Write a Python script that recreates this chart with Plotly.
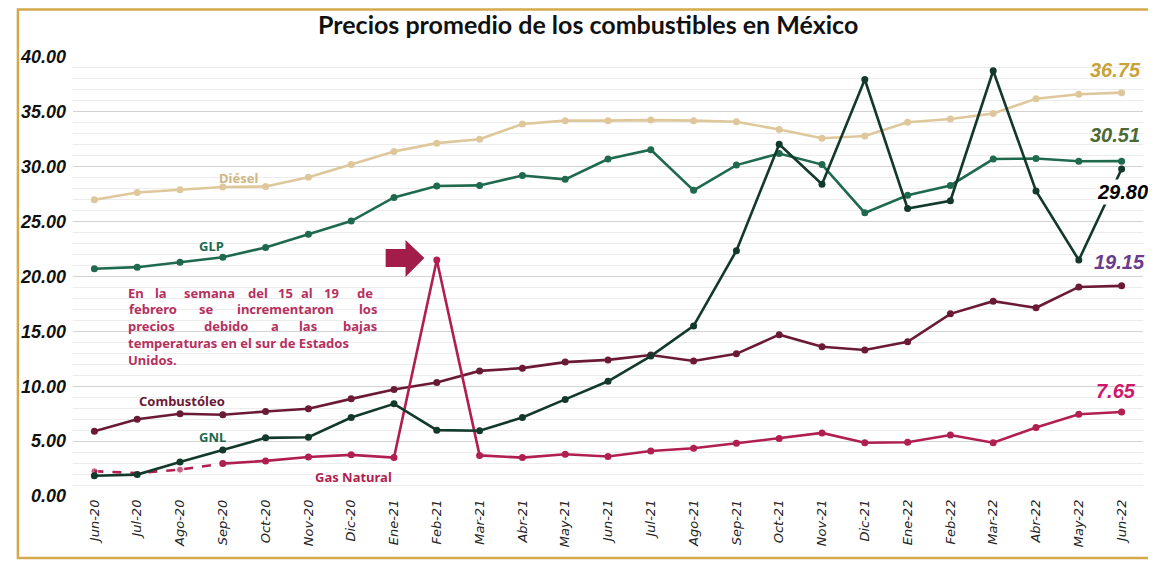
import plotly.graph_objects as go

months = ["Jun-20", "Jul-20", "Ago-20", "Sep-20", "Oct-20", "Nov-20", "Dic-20", "Ene-21",
          "Feb-21", "Mar-21", "Abr-21", "May-21", "Jun-21", "Jul-21", "Ago-21", "Sep-21",
          "Oct-21", "Nov-21", "Dic-21", "Ene-22", "Feb-22", "Mar-22", "Abr-22", "May-22", "Jun-22"]

diesel = [27.0, 27.65, 27.9, 28.15, 28.2, 29.05, 30.2, 31.4, 32.15, 32.5, 33.9, 34.2, 34.2,
          34.25, 34.2, 34.1, 33.4, 32.6, 32.8, 34.05, 34.35, 34.85, 36.2, 36.6, 36.75]
glp = [20.7, 20.85, 21.3, 21.75, 22.65, 23.85, 25.05, 27.2, 28.25, 28.3, 29.2, 28.85, 30.7,
       31.55, 27.85, 30.15, 31.2, 30.2, 25.8, 27.4, 28.3, 30.7, 30.75, 30.5, 30.51]
gnl = [1.85, 1.95, 3.1, 4.2, 5.3, 5.35, 7.15, 8.4, 6.0, 5.95, 7.15, 8.8, 10.45, 12.75, 15.5,
       22.35, 32.05, 28.4, 37.95, 26.2, 26.9, 38.75, 27.8, 21.5, 29.80]
combustoleo = [5.9, 7.0, 7.5, 7.4, 7.7, 7.95, 8.85, 9.7, 10.35, 11.4, 11.65, 12.2, 12.4, 12.85,
               12.3, 12.95, 14.7, 13.6, 13.3, 14.05, 16.6, 17.75, 17.15, 19.05, 19.15]
gas_months = months[3:]
gas_natural = [2.95, 3.2, 3.55, 3.75, 3.5, 21.5, 3.7, 3.5, 3.8, 3.6, 4.1, 4.35, 4.8, 5.25,
               5.75, 4.85, 4.9, 5.55, 4.85, 6.25, 7.45, 7.65]
gas_dash_months = months[:4]
gas_natural_dash = [2.25, 2.1, 2.4, 2.95]

C_DIESEL = "#dfc79c"
C_GLP = "#1f6a4e"
C_GNL = "#13392b"
C_COMB = "#6b1a36"
C_GAS = "#b01f50"

# the page body has an 8px margin, so the figure is drawn 8px right/down
OX, OY = 8, 8
W, H = 1156 - OX, 564 - OY
# plot area in reference-pixel coordinates
PL, PR, PT, PB = 65, 1143, 57, 496
PW, PH = PR - PL, PB - PT
L, T = PL - OX, PT - OY
R, B = W - (PR - OX), H - (PB - OY)


def px(x):
    return (x - PL) / PW


def py(y):
    return (PB - y) / PH


fig = go.Figure()


def line(xs, ys, color, dash="solid", sizes=7):
    fig.add_trace(go.Scatter(
        x=xs, y=ys, mode="lines+markers",
        line=dict(color=color, width=2.6, dash=dash),
        marker=dict(color=color, size=sizes),
        showlegend=False, hoverinfo="x+y"))


line(months, diesel, C_DIESEL)
line(months, glp, C_GLP)
line(months, combustoleo, C_COMB)
line(gas_dash_months, gas_natural_dash, C_GAS, dash="dash", sizes=[7, 0, 7, 7])
line(gas_months, gas_natural, C_GAS)
line(months, gnl, C_GNL)

ann = []
lab_font = "Noto Sans"


def lab(text, x, y, color, size=13):
    ann.append(dict(text="<b>%s</b>" % text, x=px(x), y=py(y), xref="paper", yref="paper",
                    showarrow=False, font=dict(family=lab_font, size=size, color=color),
                    xanchor="center", yanchor="middle"))


lab("Diésel", 232, 178, "#d2b587")
lab("GLP", 205, 246, C_GLP)
lab("Combustóleo", 175, 401, C_COMB)
lab("GNL", 206, 437, C_GLP)
lab("Gas Natural", 348, 477, C_GAS)

# justified paragraph, word by word
para_color = "#b5305e"
words = [
    (293, [("En", 128), ("la", 153.5), ("semana", 202.5), ("del", 251.5), ("15", 279),
           ("al", 300.5), ("19", 325.5), ("de", 359.5)]),
    (309, [("febrero", 146), ("se", 200), ("incrementaron", 279), ("los", 362.5)]),
    (326, [("precios", 144.5), ("debido", 219), ("a", 269), ("las", 301.5), ("bajas", 354.5)]),
]
for yy, ws in words:
    for w, xx in ws:
        lab(w, xx, yy, para_color)
for yy, text in [(343, "temperaturas en el sur de Estados"), (360, "Unidos.")]:
    ann.append(dict(text="<b>%s</b>" % text, x=px(118), y=py(yy), xref="paper", yref="paper",
                    showarrow=False, font=dict(family=lab_font, size=13, color=para_color),
                    xanchor="left", yanchor="middle"))


# end value labels
def endlab(text, x, y, color, bg=None):
    d = dict(text="<b><i>%s</i></b>" % text, x=px(x), y=py(y), xref="paper", yref="paper",
             showarrow=False, font=dict(family="Liberation Sans", size=20, color=color),
             xanchor="center", yanchor="middle")
    if bg:
        d["bgcolor"] = bg
        d["borderpad"] = 1
    ann.append(d)


endlab("36.75", 1115, 70, "#c9a23a")
endlab("30.51", 1115, 135, "#4b6a36")
endlab("29.80", 1122, 192, "#000000", bg="white")
endlab("19.15", 1119, 262, "#6a3c8c", bg="white")
endlab("7.65", 1116, 391, "#d0186a")

# title
ann.append(dict(text="<b>Precios promedio de los combustibles en México</b>",
                x=px(584), y=py(24), xref="paper", yref="paper", showarrow=False,
                xanchor="center", yanchor="middle",
                font=dict(family="Lato", size=25, color="#111111")))

# arrow shape
pts = [(380, 249), (400, 249), (400, 240), (419, 258), (400, 277), (400, 267), (380, 267)]
path = "M " + " L ".join("%.5f,%.5f" % (px(a), py(b)) for a, b in pts) + " Z"
# gold frame: top, left and bottom edges
frame_pts = [(1156, 9.5), (9.5, 9.5), (9.5, 558), (1156, 558)]
frame = "M " + " L ".join("%.5f,%.5f" % (px(a), py(b)) for a, b in frame_pts)
shapes = [
    dict(type="path", path=path, xref="paper", yref="paper", fillcolor="#a31d4b",
         line=dict(width=0), layer="above"),
    dict(type="path", path=frame, xref="paper", yref="paper",
         line=dict(color="#d4a94c", width=2.5), layer="below"),
]

fig.update_layout(
    width=W, height=H,
    margin=dict(l=L, r=R, t=T, b=B, pad=0),
    paper_bgcolor="white", plot_bgcolor="white",
    xaxis=dict(type="category", categoryorder="array", categoryarray=months,
               range=[-0.5, 24.5], showgrid=False, zeroline=False, showline=False,
               tickangle=-90, ticks="",
               tickfont=dict(family="DejaVu Sans", size=13, color="#222222", style="italic")),
    yaxis=dict(range=[0, 40], dtick=5, tickformat=".2f", showgrid=True,
               gridcolor="#d2d2d2", gridwidth=1.2, zeroline=False, showline=False,
               ticks="", ticklabelstandoff=6,
               minor=dict(dtick=1, showgrid=True, gridcolor="#ececec", gridwidth=1),
               tickfont=dict(family="Liberation Sans", size=18, color="#111111",
                             weight="bold", style="italic")),
    annotations=ann,
    shapes=shapes,
)

fig.write_html("out.html")
